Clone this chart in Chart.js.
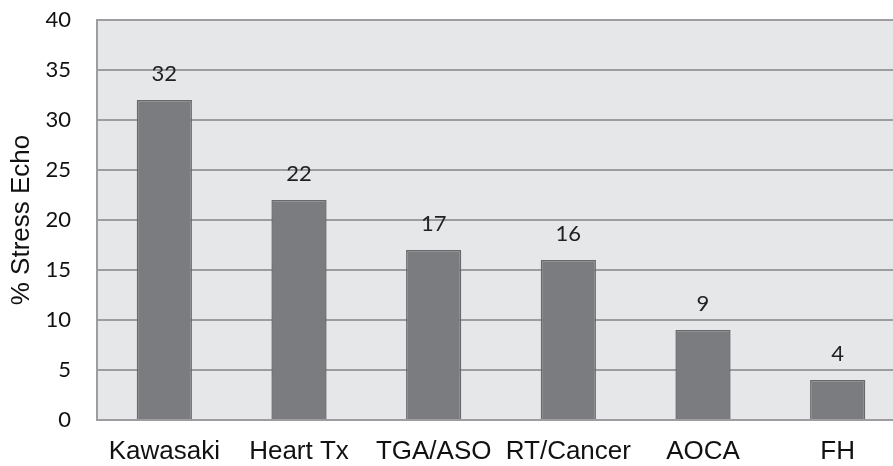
<!DOCTYPE html>
<html>
<head>
<meta charset="utf-8">
<script src="https://cdn.jsdelivr.net/npm/chart.js@4"></script>
<style>
  html, body { margin: 0; padding: 0; background: #fff; overflow: hidden; }
  #wrap { width: 905px; height: 466px; }
</style>
</head>
<body>
<div id="wrap"><canvas id="chart" width="905" height="466"></canvas></div>
<script>
const categories = ['Kawasaki', 'Heart Tx', 'TGA/ASO', 'RT/Cancer', 'AOCA', 'FH'];
const stressEcho = [32, 22, 17, 16, 9, 4];
const yTicks = [0, 5, 10, 15, 20, 25, 30, 35, 40];

// grey plot-area background
const plotBg = {
    id: 'plotBg',
    beforeDraw(chart) {
        const a = chart.chartArea, ctx = chart.ctx;
        ctx.save();
        ctx.fillStyle = '#e6e7e9';
        ctx.fillRect(a.left, a.top, a.right - a.left, a.bottom - a.top);
        ctx.restore();
    }
};

// value labels above each bar
const barLabels = {
    id: 'barLabels',
    afterDatasetsDraw(chart) {
        const ctx = chart.ctx;
        const meta = chart.getDatasetMeta(0);
        ctx.save();
        ctx.font = '22px Lato';
        ctx.fillStyle = '#222';
        ctx.textAlign = 'center';
        ctx.textBaseline = 'middle';
        meta.data.forEach((bar, i) => {
            ctx.fillText(stressEcho[i], bar.x, bar.y - 26);
        });
        ctx.restore();
    }
};

new Chart(document.getElementById('chart').getContext('2d'), {
    type: 'bar',
    data: {
        labels: categories,
        datasets: [{
            data: stressEcho,
            backgroundColor: '#7b7c7f',
            borderColor: '#68696b',
            borderWidth: 1.5,
            categoryPercentage: 1,
            barPercentage: 0.41
        }]
    },
    options: {
        responsive: false,
        animation: false,
        layout: { padding: { top: 20, left: 0, right: 0, bottom: 0 } },
        plugins: {
            legend: { display: false },
            tooltip: { enabled: false }
        },
        scales: {
            x: {
                grid: { display: false, drawTicks: false },
                border: { display: true, color: '#9d9d9f', width: 2 },
                ticks: {
                    color: '#111',
                    font: { family: 'Liberation Sans', size: 26 },
                    padding: 16,
                    maxRotation: 0,
                    autoSkip: false
                },
                afterFit: s => { s.height = 46; s.paddingLeft = 0; s.paddingRight = 0; }
            },
            y: {
                min: 0,
                max: 40,
                afterBuildTicks: s => { s.ticks = yTicks.map(v => ({ value: v })); },
                grid: { color: '#9d9d9f', lineWidth: 2, drawTicks: false },
                border: { display: true, color: '#9d9d9f', width: 2 },
                ticks: {
                    color: '#111',
                    font: { family: 'Lato', size: 22 },
                    padding: 26
                },
                title: {
                    display: true,
                    text: '% Stress Echo',
                    color: '#111',
                    font: { family: 'Liberation Sans', size: 26 },
                    padding: { top: 6, bottom: 0 }
                },
                afterFit: s => { s.width = 97; s.paddingTop = 0; s.paddingBottom = 0; }
            }
        }
    },
    plugins: [plotBg, barLabels]
});
</script>
</body>
</html>
